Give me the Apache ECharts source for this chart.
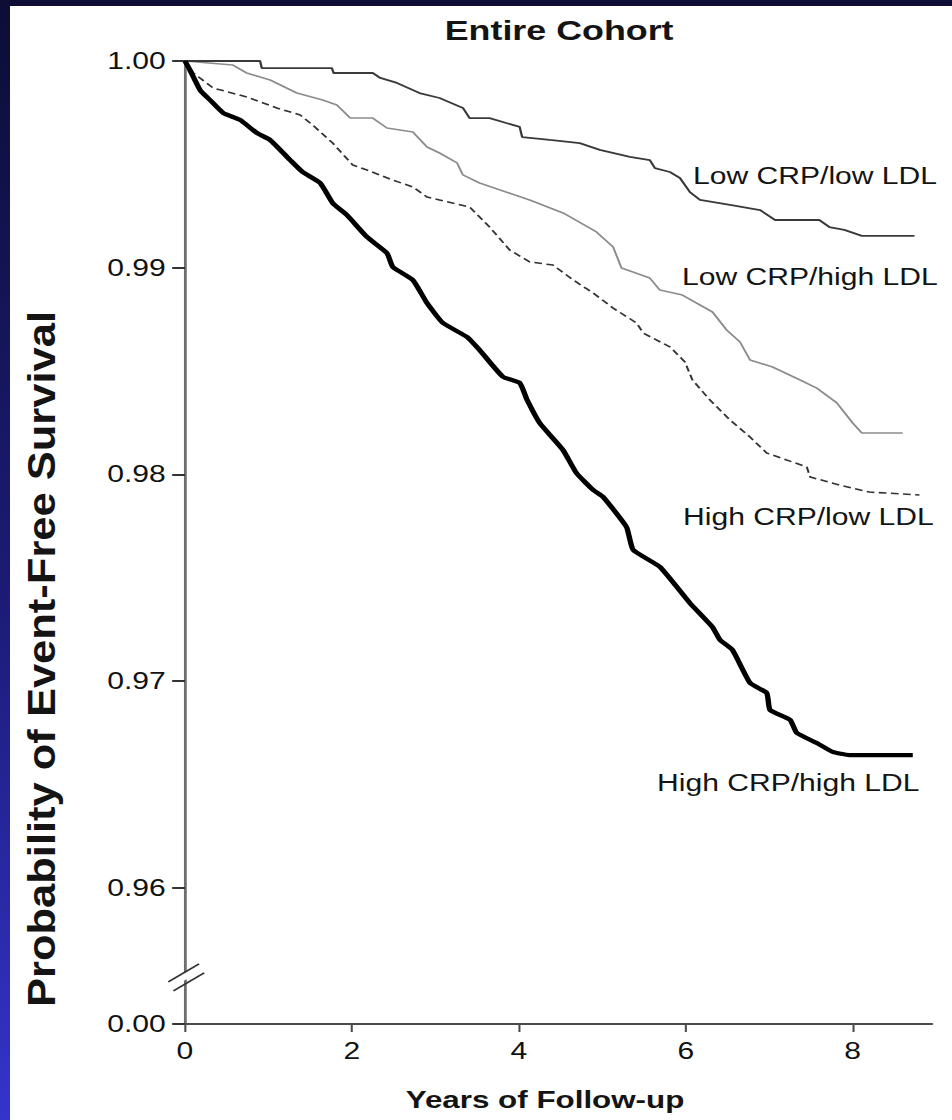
<!DOCTYPE html>
<html>
<head>
<meta charset="utf-8">
<script src="https://cdn.jsdelivr.net/npm/echarts@6/dist/echarts.min.js"></script>
<style>
	html, body {
		margin: 0;
		padding: 0;
		width: 952px;
		height: 1120px;
		overflow: hidden;
		background: linear-gradient(180deg, #0d0d36 0%, #1c1c78 55%, #3434cc 100%);
	}
	#frame {
		position: absolute;
		left: 10px;
		top: 6px;
		width: 942px;
		height: 1114px;
		background: #fff;
		overflow: hidden;
	}
	/* the source scan is stretched sideways, so the chart is drawn narrow and widened */
	#chart {
		position: absolute;
		left: 0;
		top: 0;
		width: 736px;
		height: 1114px;
		transform: scaleX(1.28);
		transform-origin: 0 0;
	}
</style>
</head>
<body>
<div id="frame"><div id="chart"></div></div>
<script>
// Y value sitting at the bottom of the broken axis (shown as 0.00)
const Y_MIN = 0.95342

const xTickValues = [0, 2, 4, 6, 8]
const yTickValues = [Y_MIN, 0.96, 0.97, 0.98, 0.99, 1.0]
const yTickLabels = ['0.00', '0.96', '0.97', '0.98', '0.99', '1.00']

const seriesNames = ['Low CRP/low LDL', 'Low CRP/high LDL', 'High CRP/low LDL', 'High CRP/high LDL']

// Low CRP / low LDL
const lowLowYears = [0, 0.90, 0.92, 1.76, 1.78, 2.25, 2.34, 2.54, 2.81, 3.05, 3.33, 3.41, 3.65, 4.01, 4.04, 4.37, 4.73, 4.97, 5.33, 5.57, 5.63, 5.81, 5.93, 6.05, 6.17, 6.53, 6.89, 7.07, 7.60, 7.72, 7.90, 8.11, 8.74]
const lowLowSurv = [1.0, 1.0, 0.99966, 0.99966, 0.99942, 0.99942, 0.99918, 0.99894, 0.99845, 0.99821, 0.99773, 0.99724, 0.99724, 0.99681, 0.99632, 0.99618, 0.99603, 0.99570, 0.99536, 0.99521, 0.99482, 0.99463, 0.99434, 0.99366, 0.99328, 0.99304, 0.99279, 0.99231, 0.99231, 0.99197, 0.99183, 0.99154, 0.99154]

// Low CRP / high LDL
const lowHighYears = [0, 0.57, 0.74, 1.02, 1.34, 1.65, 1.82, 1.98, 2.25, 2.42, 2.73, 2.90, 3.05, 3.26, 3.33, 3.53, 4.13, 4.53, 4.93, 5.13, 5.23, 5.57, 5.69, 5.96, 6.32, 6.49, 6.65, 6.77, 7.04, 7.37, 7.57, 7.81, 8.00, 8.11, 8.60]
const lowHighSurv = [1.0, 0.99981, 0.99942, 0.99908, 0.99845, 0.99811, 0.99787, 0.99724, 0.99724, 0.99676, 0.99657, 0.99584, 0.99555, 0.99507, 0.99449, 0.99410, 0.99328, 0.99265, 0.99173, 0.99100, 0.98999, 0.98950, 0.98892, 0.98868, 0.98786, 0.98699, 0.98641, 0.98554, 0.98520, 0.98457, 0.98418, 0.98346, 0.98249, 0.98201, 0.98201]

// High CRP / low LDL
const highLowYears = [0, 0.10, 0.34, 0.74, 1.10, 1.38, 1.53, 1.77, 2.01, 2.18, 2.49, 2.73, 2.90, 3.05, 3.41, 3.65, 3.89, 4.13, 4.41, 4.65, 4.89, 5.13, 5.41, 5.49, 5.81, 5.99, 6.08, 6.29, 6.53, 6.77, 6.97, 7.45, 7.49, 7.84, 8.20, 8.80]
const highLowSurv = [1.0, 0.99942, 0.99869, 0.99826, 0.99773, 0.99739, 0.99690, 0.99603, 0.99497, 0.99473, 0.99424, 0.99391, 0.99342, 0.99328, 0.99294, 0.99197, 0.99086, 0.99028, 0.99013, 0.98941, 0.98878, 0.98805, 0.98733, 0.98684, 0.98617, 0.98544, 0.98457, 0.98360, 0.98264, 0.98181, 0.98104, 0.98036, 0.97988, 0.97949, 0.97915, 0.97901]

// High CRP / high LDL
const highHighYears = [0, 0.06, 0.18, 0.30, 0.46, 0.66, 0.86, 1.02, 1.26, 1.41, 1.62, 1.77, 1.94, 2.18, 2.42, 2.49, 2.73, 2.90, 3.09, 3.38, 3.53, 3.81, 4.01, 4.10, 4.25, 4.53, 4.69, 4.89, 5.01, 5.29, 5.37, 5.69, 6.05, 6.32, 6.41, 6.56, 6.77, 6.97, 7.01, 7.25, 7.33, 7.57, 7.76, 7.96, 8.72]
const highHighSurv = [1.0, 0.99956, 0.99860, 0.99811, 0.99748, 0.99715, 0.99652, 0.99618, 0.99521, 0.99463, 0.99410, 0.99313, 0.99255, 0.99149, 0.99071, 0.99004, 0.98941, 0.98829, 0.98733, 0.98665, 0.98602, 0.98472, 0.98443, 0.98360, 0.98249, 0.98118, 0.98007, 0.97925, 0.97891, 0.97746, 0.97635, 0.97553, 0.97378, 0.97262, 0.97200, 0.97151, 0.96992, 0.96943, 0.96861, 0.96813, 0.96750, 0.96701, 0.96658, 0.96643, 0.96643]

const FONT = 'Liberation Sans, Arial, Helvetica, sans-serif'

const zip = (xs, ys) => xs.map((x, i) => [x, ys[i]])

const chart = echarts.init(document.getElementById('chart'), null, { renderer: 'svg' })

var option = {
	animation: false,
	backgroundColor: 'transparent',
	grid: {
		left: 136.7,
		right: 15.7,
		top: 55,
		bottom: 96,
	},
	xAxis: {
		type: 'value',
		min: 0,
		max: 8.95,
		splitLine: { show: false },
		axisLine: { lineStyle: { color: '#4a4a4a', width: 2 } },
		axisTick: {
			customValues: xTickValues,
			length: 8,
			lineStyle: { color: '#4a4a4a', width: 1.6 },
		},
		axisLabel: {
			customValues: xTickValues,
			margin: 15,
			color: '#111',
			fontSize: 23.5,
			fontFamily: FONT,
		},
	},
	yAxis: {
		type: 'value',
		min: Y_MIN,
		max: 1.0,
		splitLine: { show: false },
		axisLine: { lineStyle: { color: '#6e6e6e', width: 2.2 } },
		axisTick: {
			customValues: yTickValues,
			length: 10,
			lineStyle: { color: '#333', width: 2 },
		},
		axisLabel: {
			customValues: yTickValues,
			margin: 15,
			color: '#111',
			fontSize: 23.5,
			fontFamily: FONT,
			formatter: (v) => {
				const i = yTickValues.findIndex((t) => Math.abs(t - v) < 1e-6)
				return i >= 0 ? yTickLabels[i] : ''
			},
		},
	},
	series: [
		{
			name: seriesNames[0],
			type: 'line',
			symbol: 'none',
			data: zip(lowLowYears, lowLowSurv),
			lineStyle: { color: '#3a3a3a', width: 1.8 },
			z: 3,
		},
		{
			name: seriesNames[1],
			type: 'line',
			symbol: 'none',
			data: zip(lowHighYears, lowHighSurv),
			lineStyle: { color: '#8c8c8c', width: 1.6 },
			z: 2,
		},
		{
			name: seriesNames[2],
			type: 'line',
			symbol: 'none',
			data: zip(highLowYears, highLowSurv),
			lineStyle: { color: '#333', width: 1.6, type: [6, 3.5] },
			z: 4,
		},
		{
			name: seriesNames[3],
			type: 'line',
			symbol: 'none',
			smooth: 0.15,
			data: zip(highHighYears, highHighSurv),
			lineStyle: { color: '#000', width: 4.2 },
			z: 5,
		},
	],
}

chart.setOption(option)

// axis break marks and text placed after the scales exist
const ax = chart.convertToPixel({ xAxisIndex: 0 }, 0)
const by = chart.convertToPixel({ yAxisIndex: 0 }, 0.9557)

const textStyle = (text, x, y, size, weight, align) => ({
	type: 'text',
	x: x,
	y: y,
	style: {
		text: text,
		fill: '#141414',
		font: `${weight} ${size}px ${FONT}`,
		align: align || 'left',
		verticalAlign: 'middle',
	},
	z: 100,
})

chart.setOption({
	graphic: [
		{
			type: 'polygon',
			shape: { points: [[ax - 12, by + 4], [ax + 12, by - 12], [ax + 14, by - 6], [ax - 10, by + 10]] },
			style: { fill: '#fff' },
			z: 90,
		},
		{
			type: 'line',
			shape: { x1: ax - 13, y1: by + 5, x2: ax + 11, y2: by - 13 },
			style: { stroke: '#333', lineWidth: 1.6 },
			z: 95,
		},
		{
			type: 'line',
			shape: { x1: ax - 9, y1: by + 14, x2: ax + 15, y2: by - 4 },
			style: { stroke: '#333', lineWidth: 1.6 },
			z: 95,
		},
		textStyle('Entire Cohort', 429, 24, 28, 'bold', 'center'),
		textStyle('Years of Follow-up', 418, 1094, 24.5, 'bold', 'center'),
		// the y title is taller in the scan than a plain font gives, so it is stretched along its length
		Object.assign(textStyle('Probability of Event-Free Survival', 25, 653, 30, 'bold', 'center'), {
			rotation: Math.PI / 2,
			scaleX: 1.45,
		}),
		textStyle(seriesNames[0], 533.6, 170, 23.5, 'normal'),
		textStyle(seriesNames[1], 525, 271, 23.5, 'normal'),
		textStyle(seriesNames[2], 525.8, 511, 23.5, 'normal'),
		textStyle(seriesNames[3], 505.5, 777, 23.5, 'normal'),
	],
})
</script>
</body>
</html>
